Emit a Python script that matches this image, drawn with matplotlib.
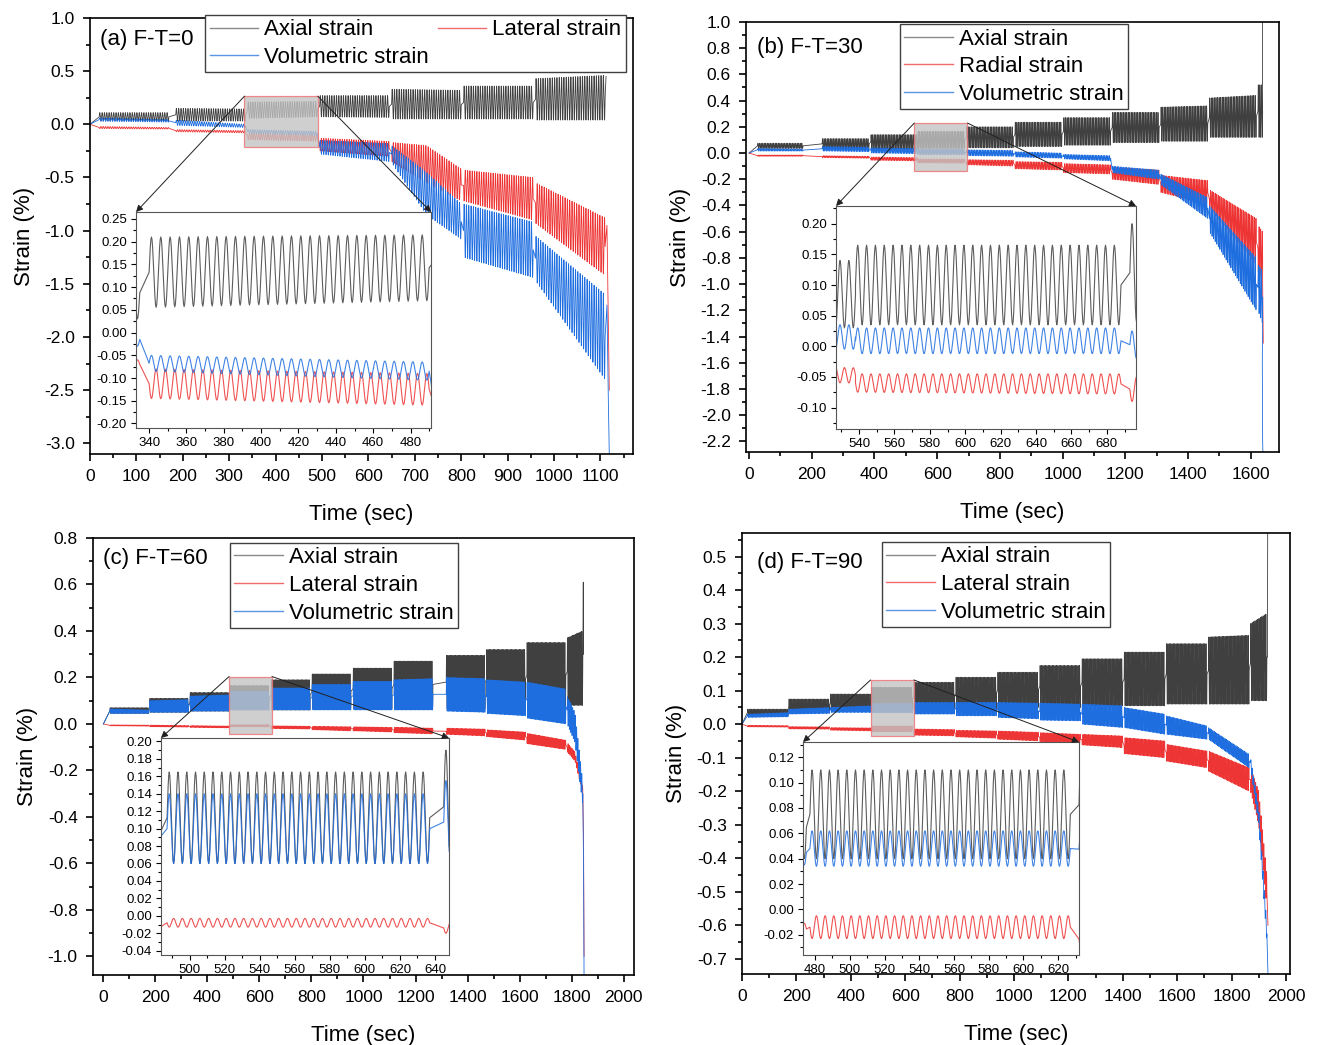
import numpy as np
import matplotlib
matplotlib.use('Agg')
import matplotlib.pyplot as plt
from matplotlib.lines import Line2D
from matplotlib.patches import Rectangle, ConnectionPatch
from matplotlib.ticker import MultipleLocator, FormatStrFormatter

plt.rcParams['font.family'] = ['Liberation Sans', 'DejaVu Sans']
plt.rcParams['axes.unicode_minus'] = False

# loading: 5 s cycles, 30 cycles per stage; envelopes
PERIOD = 5.0
PTS = 16

# ---- (a) F-T=0
a_start = [20, 185, 340, 495, 650, 805, 960]
a_cycles = [30, 30, 30, 30, 30, 30, 30]
a_axial_top = [(0.11, 0.11), (0.15, 0.145), (0.21, 0.215), (0.27, 0.27), (0.33, 0.32), (0.36, 0.36), (0.43, 0.46)]
a_axial_bot = [(0.03, 0.03), (0.03, 0.03), (0.055, 0.07), (0.07, 0.065), (0.05, 0.05), (0.05, 0.05), (0.04, 0.04)]
a_lat_top = [(-0.02, -0.03), (-0.05, -0.06), (-0.08, -0.09), (-0.13, -0.16), (-0.17, -0.2, -0.42), (-0.43, -0.5), (-0.55, -0.88)]
a_lat_bot = [(-0.04, -0.045), (-0.07, -0.08), (-0.145, -0.16), (-0.25, -0.3), (-0.35, -0.55, -0.72), (-0.72, -0.9), (-0.93, -1.42)]
a_vol_top = [(0.06, 0.045), (0.04, 0.0), (-0.05, -0.065), (-0.15, -0.18), (-0.2, -0.45, -0.75), (-0.75, -0.92), (-1.05, -1.6)]
a_vol_bot = [(0.03, 0.02), (-0.01, -0.03), (-0.085, -0.105), (-0.28, -0.35), (-0.36, -0.85, -1.08), (-1.25, -1.44), (-1.47, -2.4)]
a_axial_tail = [(1112, 0.45)]
a_lat_tail = [(1114, -0.95), (1117, -1.9), (1119, -2.5)]
a_vol_tail = [(1114, -1.7), (1117, -2.6), (1119, -3.1)]
a_labels = ['Axial strain', 'Lateral strain', 'Volumetric strain']

# ---- (b) F-T=30
b_start = [27, 233, 388, 538, 693, 848, 1003, 1158, 1313, 1468, 1623]
b_cycles = [29, 30, 30, 30, 30, 30, 30, 30, 30, 30, 3]
b_axial_top = [(0.075, 0.075), (0.11, 0.11), (0.14, 0.14), (0.165, 0.165), (0.2, 0.2), (0.235, 0.235), (0.27, 0.27), (0.31, 0.31), (0.35, 0.36), (0.42, 0.44), (0.52, 0.52)]
b_axial_bot = [(0.035, 0.035), (0.03, 0.03), (0.03, 0.03), (0.035, 0.035), (0.04, 0.04), (0.05, 0.05), (0.06, 0.06), (0.08, 0.08), (0.09, 0.09), (0.12, 0.12), (0.12, 0.12)]
b_lat_top = [(-0.015, -0.015), (-0.02, -0.025), (-0.03, -0.035), (-0.045, -0.045), (-0.05, -0.055), (-0.065, -0.07), (-0.08, -0.09), (-0.11, -0.13), (-0.17, -0.21), (-0.28, -0.5), (-0.55, -0.6)]
b_lat_bot = [(-0.025, -0.025), (-0.035, -0.04), (-0.055, -0.06), (-0.075, -0.078), (-0.09, -0.1), (-0.12, -0.13), (-0.15, -0.16), (-0.2, -0.24), (-0.3, -0.39), (-0.42, -0.85), (-0.9, -1.0)]
b_vol_top = [(0.035, 0.03), (0.05, 0.045), (0.04, 0.035), (0.03, 0.03), (0.025, 0.02), (0.01, 0.0), (-0.01, -0.02), (-0.1, -0.13), (-0.16, -0.34), (-0.4, -0.8), (-0.85, -0.9)]
b_vol_bot = [(0.015, 0.015), (0.015, 0.01), (0.0, -0.005), (-0.012, -0.012), (-0.02, -0.025), (-0.03, -0.04), (-0.045, -0.06), (-0.15, -0.2), (-0.24, -0.5), (-0.6, -1.2), (-1.2, -1.3)]
b_axial_tail = [(1637, 0.3), (1638, 1.05)]
b_lat_tail = [(1638, -1.0), (1640, -1.45)]
b_vol_tail = [(1637, -1.6), (1638, -2.2), (1639, -2.3)]
b_labels = ['Axial strain', 'Radial strain', 'Volumetric strain']

# ---- (c) F-T=60
c_start = [25, 178, 333, 487, 645, 802, 960, 1117, 1318, 1473, 1628, 1783]
c_cycles = [30, 30, 30, 30, 30, 30, 30, 30, 30, 30, 30, 12]
c_axial_top = [(0.07, 0.07), (0.11, 0.11), (0.135, 0.135), (0.165, 0.165), (0.19, 0.19), (0.215, 0.215), (0.24, 0.24), (0.27, 0.27), (0.295, 0.295), (0.32, 0.32), (0.35, 0.35), (0.37, 0.4)]
c_axial_bot = [(0.045, 0.045), (0.05, 0.05), (0.055, 0.055), (0.06, 0.06), (0.06, 0.06), (0.065, 0.065), (0.065, 0.065), (0.07, 0.07), (0.065, 0.065), (0.065, 0.065), (0.07, 0.07), (0.08, 0.08)]
c_lat_top = [(-0.004, -0.005), (-0.005, -0.007), (-0.007, -0.009), (-0.003, -0.003), (-0.008, -0.01), (-0.01, -0.012), (-0.012, -0.015), (-0.014, -0.018), (-0.018, -0.022), (-0.025, -0.035), (-0.04, -0.07), (-0.08, -0.12, -0.27)]
c_lat_bot = [(-0.008, -0.01), (-0.012, -0.014), (-0.015, -0.017), (-0.013, -0.013), (-0.02, -0.022), (-0.025, -0.03), (-0.03, -0.035), (-0.038, -0.043), (-0.045, -0.052), (-0.055, -0.07), (-0.085, -0.11), (-0.12, -0.16, -0.3)]
c_vol_top = [(0.065, 0.06), (0.1, 0.105), (0.12, 0.125), (0.14, 0.14), (0.155, 0.155), (0.17, 0.17), (0.183, 0.183), (0.19, 0.195), (0.2, 0.195), (0.19, 0.18), (0.18, 0.15), (0.12, 0.05, -0.25)]
c_vol_bot = [(0.045, 0.045), (0.05, 0.05), (0.055, 0.055), (0.06, 0.06), (0.06, 0.06), (0.06, 0.06), (0.06, 0.06), (0.06, 0.06), (0.055, 0.05), (0.045, 0.035), (0.025, 0.0), (0.0, -0.08, -0.35)]
c_axial_tail = [(1845, 0.61), (1846, 0.3)]
c_lat_tail = [(1846, -0.5), (1848, -1.0)]
c_vol_tail = [(1846, -0.6), (1848, -1.1)]
c_labels = ['Axial strain', 'Lateral strain', 'Volumetric strain']

# ---- (d) F-T=90
d_start = [20, 172, 325, 477, 632, 786, 940, 1095, 1250, 1405, 1560, 1715, 1870]
d_cycles = [30, 30, 30, 30, 30, 30, 30, 30, 30, 30, 30, 30, 12]
d_axial_top = [(0.045, 0.045), (0.075, 0.075), (0.09, 0.09), (0.11, 0.11), (0.125, 0.125), (0.14, 0.14), (0.155, 0.155), (0.175, 0.175), (0.195, 0.195), (0.215, 0.215), (0.24, 0.24), (0.26, 0.265), (0.3, 0.33)]
d_axial_bot = [(0.025, 0.025), (0.035, 0.035), (0.04, 0.04), (0.04, 0.04), (0.04, 0.04), (0.045, 0.045), (0.05, 0.05), (0.05, 0.05), (0.055, 0.055), (0.055, 0.055), (0.06, 0.06), (0.06, 0.06), (0.07, 0.07)]
d_lat_top = [(-0.003, -0.004), (-0.007, -0.008), (-0.01, -0.011), (-0.005, -0.005), (-0.014, -0.016), (-0.018, -0.02), (-0.02, -0.024), (-0.025, -0.03), (-0.03, -0.035), (-0.04, -0.05), (-0.06, -0.08), (-0.08, -0.13), (-0.13, -0.2, -0.45)]
d_lat_bot = [(-0.008, -0.009), (-0.014, -0.015), (-0.018, -0.02), (-0.023, -0.023), (-0.033, -0.035), (-0.038, -0.042), (-0.045, -0.05), (-0.052, -0.06), (-0.062, -0.07), (-0.088, -0.1), (-0.11, -0.13), (-0.14, -0.2), (-0.2, -0.3, -0.55)]
d_vol_top = [(0.03, 0.035), (0.045, 0.05), (0.05, 0.055), (0.062, 0.062), (0.065, 0.065), (0.065, 0.065), (0.065, 0.063), (0.063, 0.06), (0.06, 0.055), (0.05, 0.03), (0.025, -0.005), (-0.01, -0.09), (-0.1, -0.25, -0.6)]
d_vol_bot = [(0.02, 0.022), (0.03, 0.032), (0.035, 0.035), (0.034, 0.034), (0.03, 0.03), (0.025, 0.025), (0.02, 0.016), (0.012, 0.01), (0.0, -0.01), (-0.01, -0.03), (-0.03, -0.045), (-0.045, -0.13), (-0.13, -0.3, -0.65)]
d_axial_tail = [(1932, 0.2), (1933, 0.6)]
d_lat_tail = [(1934, -0.6)]
d_vol_tail = [(1934, -0.745)]
d_labels = ['Axial strain', 'Lateral strain', 'Volumetric strain']

C_AX = '#404040'
C_LAT = '#ee3535'
C_VOL = '#1f6ee0'
LEG_COLORS = ['#8a8a8a', '#f26b6b', '#5b95e6']


def build(starts, cycles, top, bot, sign, tail):
    ts = [np.array([0.0])]
    ys = [np.array([0.0])]
    for s, n, hi, lo in zip(starts, cycles, top, bot):
        tt = np.linspace(s, s + n * PERIOD, n * PTS + 1)
        knots = np.linspace(s, s + n * PERIOD, len(hi))
        hi_t = np.interp(tt, knots, hi)
        lo_t = np.interp(tt, knots, lo)
        mid = (hi_t + lo_t) / 2
        amp = (hi_t - lo_t) / 2
        ts.append(tt)
        ys.append(mid + sign * amp * np.sin(2 * np.pi * (tt - s) / PERIOD))
    for tx, vy in tail:
        ts.append(np.array([tx]))
        ys.append(np.array([vy]))
    return np.concatenate(ts), np.concatenate(ys)


def style_axis(ax, xmaj, xmin, ymaj, ymin, fmt, size, lw, big):
    ax.xaxis.set_major_locator(MultipleLocator(xmaj))
    ax.xaxis.set_minor_locator(MultipleLocator(xmin))
    ax.yaxis.set_major_locator(MultipleLocator(ymaj))
    ax.yaxis.set_minor_locator(MultipleLocator(ymin))
    ax.yaxis.set_major_formatter(FormatStrFormatter(fmt))
    ax.tick_params(which='both', direction='out', top=False, right=False, width=lw, labelsize=size)
    ax.tick_params(which='major', length=5 if big else 3.5, pad=6 if big else 3)
    ax.tick_params(which='minor', length=3 if big else 2)
    for sp in ax.spines.values():
        sp.set_linewidth(lw)


def panel(rect, inset_rect, data, labels, tag, xlim, ylim, ticks, ins_xlim, ins_ylim, ins_ticks,
          tag_pos, leg_pos, ncol=1):
    starts, cycles, series = data
    ax = fig.add_axes(rect)
    axins = fig.add_axes(inset_rect)
    colors = [C_AX, C_LAT, C_VOL]
    signs = [1, -1, 1]
    for (top, bot, tail), col, sg in zip(series, colors, signs):
        t, y = build(starts, cycles, top, bot, sg, tail)
        ax.plot(t, y, color=col, lw=0.6)
        axins.plot(t, y, color=col, lw=0.8, alpha=0.85)
    ax.set_xlim(*xlim)
    ax.set_ylim(*ylim)
    style_axis(ax, ticks[0], ticks[0] / 2, ticks[1], ticks[1] / 2, '%.1f', 12.5, 1.2, True)
    ax.set_xlabel('Time (sec)', fontsize=16, labelpad=14)
    ax.set_ylabel('Strain (%)', fontsize=16, labelpad=7)
    ax.text(tag_pos[0], tag_pos[1], tag, transform=ax.transAxes, fontsize=16, va='center', ha='left')
    handles = [Line2D([], [], color=c, lw=1.0, label=l) for c, l in zip(LEG_COLORS, labels)]
    if ncol == 2:
        handles = [handles[0], handles[2], handles[1]]
    leg = ax.legend(handles=handles, loc='upper left', bbox_to_anchor=leg_pos, ncol=ncol, fontsize=16,
                    frameon=True, fancybox=False, edgecolor='#404040', framealpha=1,
                    handlelength=2.2, handletextpad=0.25, labelspacing=0.3, borderpad=0.2,
                    columnspacing=0.4, borderaxespad=0)
    leg.get_frame().set_linewidth(1.0)
    leg.set_zorder(20)

    axins.set_xlim(*ins_xlim)
    axins.set_ylim(*ins_ylim)
    style_axis(axins, 20, 10, ins_ticks, ins_ticks / 2, '%.2f', 9.5, 0.8, False)
    for sp in axins.spines.values():
        sp.set_color('#555555')

    x0, x1 = ins_xlim
    y0, y1 = ins_ylim
    ax.add_patch(Rectangle((x0, y0), x1 - x0, y1 - y0, facecolor='#c4c4c4', alpha=0.8,
                           edgecolor='#f07070', lw=0.9, zorder=10))
    for cx in (0, 1):
        cp = ConnectionPatch(xyA=(x0 if cx == 0 else x1, y1), coordsA=ax.transData,
                             xyB=(cx, 1), coordsB=axins.transAxes,
                             arrowstyle='-|>', mutation_scale=10, color='#202020', lw=0.7)
        fig.add_artist(cp)
    return ax


fig = plt.figure(figsize=(13.17, 10.45), dpi=100)

panel([0.0683, 0.5656, 0.4123, 0.4172], [0.1033, 0.5904, 0.224, 0.2067],
      (a_start, a_cycles, [(a_axial_top, a_axial_bot, a_axial_tail),
                           (a_lat_top, a_lat_bot, a_lat_tail),
                           (a_vol_top, a_vol_bot, a_vol_tail)]),
      a_labels, '(a) F-T=0', (0, 1170), (-3.1, 1.0), (100, 0.5),
      (333, 491), (-0.21, 0.265), 0.05, (0.018, 0.95), (0.212, 1.007), ncol=2)

panel([0.5664, 0.5675, 0.4047, 0.4115], [0.6348, 0.5895, 0.2278, 0.2134],
      (b_start, b_cycles, [(b_axial_top, b_axial_bot, b_axial_tail),
                           (b_lat_top, b_lat_bot, b_lat_tail),
                           (b_vol_top, b_vol_bot, b_vol_tail)]),
      b_labels, '(b) F-T=30', (-10, 1690), (-2.28, 1.0), (200, 0.2),
      (527, 696.5), (-0.135, 0.229), 0.05, (0.02, 0.94), (0.289, 0.995))

panel([0.0706, 0.0670, 0.4108, 0.4182], [0.1222, 0.0861, 0.2187, 0.2077],
      (c_start, c_cycles, [(c_axial_top, c_axial_bot, c_axial_tail),
                           (c_lat_top, c_lat_bot, c_lat_tail),
                           (c_vol_top, c_vol_bot, c_vol_tail)]),
      c_labels, '(c) F-T=60', (-40, 2040), (-1.08, 0.8), (200, 0.2),
      (483.5, 648), (-0.045, 0.204), 0.02, (0.018, 0.952), (0.253, 0.989))

panel([0.5634, 0.0679, 0.4161, 0.422], [0.6097, 0.0861, 0.2096, 0.2038],
      (d_start, d_cycles, [(d_axial_top, d_axial_bot, d_axial_tail),
                           (d_lat_top, d_lat_bot, d_lat_tail),
                           (d_vol_top, d_vol_bot, d_vol_tail)]),
      d_labels, '(d) F-T=90', (0, 2015), (-0.745, 0.57), (200, 0.1),
      (473, 632), (-0.036, 0.132), 0.02, (0.027, 0.934), (0.255, 0.98))

fig.savefig('out.png', dpi=100)
